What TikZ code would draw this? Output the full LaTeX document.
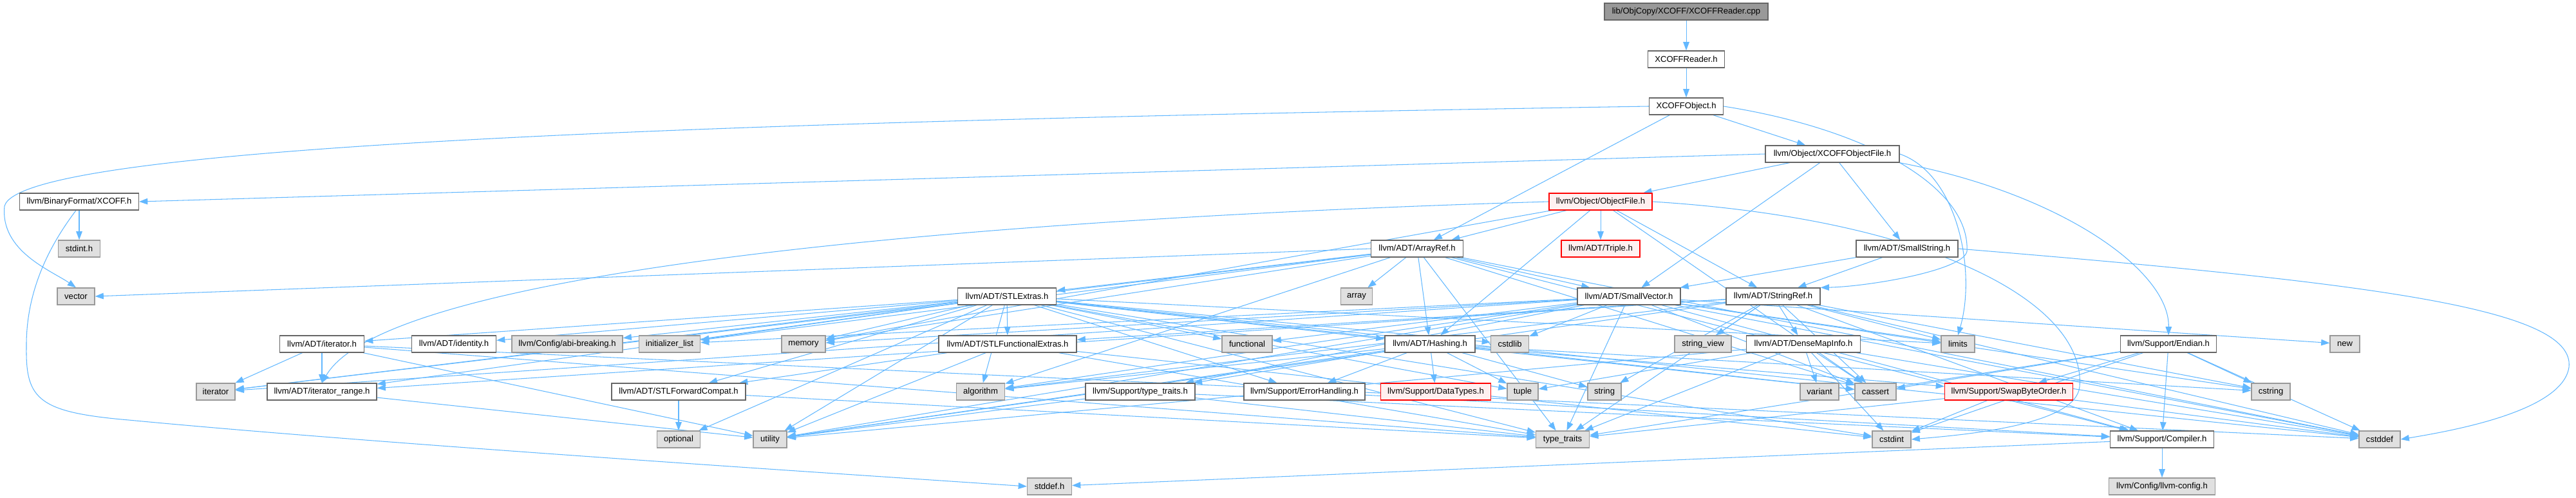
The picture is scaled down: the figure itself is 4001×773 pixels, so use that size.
\documentclass[tikz,border=0pt]{standalone}
\usepackage{fontspec}
\setmainfont{Liberation Sans}
\usepackage{xcolor}
\definecolor{dxedge}{HTML}{63B8FF}
\definecolor{dxborder}{HTML}{666666}
\definecolor{dxsysborder}{HTML}{999999}
\definecolor{dxsysfill}{HTML}{E0E0E0}
\definecolor{dxrootfill}{HTML}{999999}
\definecolor{dxredfill}{HTML}{FFF0F0}
\usetikzlibrary{arrows.meta, backgrounds}

\begin{document}
\begin{tikzpicture}[x=0.025cm, y=-0.025cm,
    every node/.style={font=\fontsize{9.3}{11}\selectfont},
    hdr/.style={draw=dxborder, fill=white, line width=0.9pt, minimum height=0.65cm,
                inner xsep=2pt, inner ysep=0pt},
    sysnode/.style={hdr, draw=dxsysborder, fill=dxsysfill},
    trunc/.style={hdr, draw=red, fill=dxredfill},
    rootnode/.style={hdr, fill=dxrootfill},
    wd/.style={minimum width=#1*0.025cm},
    arr/.style={-{Triangle[length=0.33cm, width=0.24cm]}, draw=dxedge, line width=0.75pt},
]
\useasboundingbox (0,0) rectangle (4001,773);

% ===== top chain =====
\node[rootnode, wd=254] (cpp) at (2619,18) {lib/ObjCopy/XCOFF/XCOFFReader.cpp};
\node[hdr, wd=119] (xreader) at (2619,92) {XCOFFReader.h};
\node[hdr, wd=115] (xobj) at (2619,165) {XCOFFObject.h};
\node[hdr, wd=208] (xobjfile) at (2846,239) {llvm/Object/XCOFFObjectFile.h};

% ===== rows 4-6 =====
\node[hdr, wd=185] (bfxcoff) at (123,313) {llvm/BinaryFormat/XCOFF.h};
\node[trunc, wd=160] (objfile) at (2486,313) {llvm/Object/ObjectFile.h};

\node[sysnode, wd=65] (stdinth) at (123,386) {stdint.h};
\node[hdr, wd=143] (arrayref) at (2201,386) {llvm/ADT/ArrayRef.h};
\node[trunc, wd=122] (triple) at (2486,386) {llvm/ADT/Triple.h};
\node[hdr, wd=158] (smallstr) at (2962,386) {llvm/ADT/SmallString.h};

\node[sysnode, wd=58] (vector) at (118,460) {vector};
\node[hdr, wd=153] (stlextras) at (1564,460) {llvm/ADT/STLExtras.h};
\node[sysnode, wd=49] (array) at (2107,460) {array};
\node[hdr, wd=160] (smallvec) at (2530,460) {llvm/ADT/SmallVector.h};
\node[hdr, wd=146] (stringref) at (2754,460) {llvm/ADT/StringRef.h};

% ===== row 7 =====
\node[hdr, wd=131] (iteratorh) at (500,534) {llvm/ADT/iterator.h};
\node[hdr, wd=131] (identity) at (705,534) {llvm/ADT/identity.h};
\node[sysnode, wd=172] (abibrk) at (881,534) {llvm/Config/abi-breaking.h};
\node[sysnode, wd=95] (initlist) at (1040,534) {initializer\_list};
\node[sysnode, wd=68] (memory) at (1248,534) {memory};
\node[hdr, wd=214] (stlfunc) at (1565,534) {llvm/ADT/STLFunctionalExtras.h};
\node[sysnode, wd=78] (functional) at (1937,534) {functional};
\node[hdr, wd=140] (hashing) at (2221,534) {llvm/ADT/Hashing.h};
\node[sysnode, wd=59] (cstdlib) at (2345,534) {cstdlib};
\node[sysnode, wd=88] (strview) at (2645,534) {string\_view};
\node[hdr, wd=177] (densemap) at (2801,534) {llvm/ADT/DenseMapInfo.h};
\node[sysnode, wd=52] (limits) at (3041,534) {limits};
\node[hdr, wd=149] (endian) at (3368,534) {llvm/Support/Endian.h};
\node[sysnode, wd=46] (new) at (3642,534) {new};

% ===== row 8 =====
\node[sysnode, wd=60] (iterator) at (335,608) {iterator};
\node[hdr, wd=170] (iterrange) at (500,608) {llvm/ADT/iterator\_range.h};
\node[hdr, wd=208] (stlfwd) at (1054,608) {llvm/ADT/STLForwardCompat.h};
\node[sysnode, wd=75] (algorithm) at (1523,608) {algorithm};
\node[hdr, wd=170] (typetraitsh) at (1771,608) {llvm/Support/type\_traits.h};
\node[hdr, wd=188] (errhand) at (2026,608) {llvm/Support/ErrorHandling.h};
\node[trunc, wd=171] (datatypes) at (2230,608) {llvm/Support/DataTypes.h};
\node[sysnode, wd=48] (tuple) at (2365,608) {tuple};
\node[sysnode, wd=52] (string) at (2492,608) {string};
\node[sysnode, wd=60] (variant) at (2826,608) {variant};
\node[sysnode, wd=64] (cassert) at (2913,608) {cassert};
\node[trunc, wd=199] (swapbyte) at (3120,608) {llvm/Support/SwapByteOrder.h};
\node[sysnode, wd=60] (cstring) at (3527,608) {cstring};

% ===== rows 9-10 =====
\node[sysnode, wd=67] (optional) at (1054,682) {optional};
\node[sysnode, wd=52] (utility) at (1196,682) {utility};
\node[sysnode, wd=83] (typetraits) at (2427,682) {type\_traits};
\node[sysnode, wd=60] (cstdint) at (2938,682) {cstdint};
\node[hdr, wd=161] (compiler) at (3358,682) {llvm/Support/Compiler.h};
\node[sysnode, wd=64] (cstddef) at (3696,682) {cstddef};

\node[sysnode, wd=69] (stddefh) at (1630,755) {stddef.h};
\node[sysnode, wd=165] (llvmconfig) at (3358,755) {llvm/Config/llvm-config.h};

\begin{scope}[on background layer]
% top chain
\draw[arr] (cpp) -- (xreader);
\draw[arr] (xreader) -- (xobj);
\draw[arr] (xobj) -- (xobjfile);
\draw[arr] (xobj) -- (arrayref);
\draw[arr] (xobj.west) .. controls (1000,190) and (30,230) .. (7,320)
      .. controls (0,390) and (80,420) .. (vector.north);
\draw[arr] (xobj.east) .. controls (2900,200) and (3060,290) .. (3055,390)
      .. controls (3050,420) and (2900,445) .. (stringref.north east);

% XCOFFObjectFile.h
\draw[arr] (xobjfile.west) -- (bfxcoff.east);
\draw[arr] (xobjfile) -- (objfile);
\draw[arr] (xobjfile) -- (smallvec);
\draw[arr] (xobjfile) -- (smallstr);
\draw[arr] (xobjfile.east) .. controls (3040,270) and (3070,420) .. (limits.north);
\draw[arr] (xobjfile.south east) .. controls (3200,300) and (3370,420) .. (endian.north);

% BinaryFormat/XCOFF.h
\draw[arr] (bfxcoff) -- (stdinth);
\draw[arr] (bfxcoff.250) .. controls (70,390) and (40,460) .. (41,540)
      .. controls (40,620) and (60,640) .. (200,652)
      .. controls (600,690) and (1300,735) .. (stddefh.west);

% ObjectFile.h
\draw[arr] (objfile) -- (arrayref);
\draw[arr] (objfile) -- (triple);
\draw[arr] (objfile) -- (stringref);
\draw[arr] (objfile) -- (hashing);
\draw[arr] (objfile) -- (memory);
\draw[arr] (objfile.west) .. controls (1500,340) and (600,420) .. (iterrange.north);
\draw[arr] (objfile) -- (cassert);
\draw[arr] (objfile.east) .. controls (3000,340) and (3240,470) .. (3230,600)
      .. controls (3225,660) and (3050,675) .. (cstdint.east);

% ArrayRef.h
\draw[arr] (arrayref) -- (hashing);
\draw[arr] (arrayref) -- (stlextras);
\draw[arr] (arrayref) -- (smallvec);
\draw[arr] (arrayref) -- (compiler);
\draw[arr] (arrayref) -- (algorithm);
\draw[arr] (arrayref) -- (array);
\draw[arr] (arrayref) -- (cassert);
\draw[arr] (arrayref) -- (cstddef);
\draw[arr] (arrayref) -- (initlist);
\draw[arr] (arrayref) -- (iterator);
\draw[arr] (arrayref) -- (memory);
\draw[arr] (arrayref) -- (typetraits);
\draw[arr] (arrayref.west) -- (vector.east);

% SmallString.h
\draw[arr] (smallstr) -- (smallvec);
\draw[arr] (smallstr) -- (stringref);
\draw[arr] (smallstr.east) .. controls (3700,440) and (4000,480) .. (3990,570)
      .. controls (3980,640) and (3800,670) .. (cstddef.east);

% STLExtras.h
\draw[arr] (stlextras) -- (hashing);
\draw[arr] (stlextras) -- (stlfwd);
\draw[arr] (stlextras) -- (stlfunc);
\draw[arr] (stlextras) -- (identity);
\draw[arr] (stlextras) -- (iteratorh);
\draw[arr] (stlextras) -- (iterrange);
\draw[arr] (stlextras) -- (abibrk);
\draw[arr] (stlextras) -- (errhand);
\draw[arr] (stlextras) -- (algorithm);
\draw[arr] (stlextras) -- (cassert);
\draw[arr] (stlextras) -- (cstddef);
\draw[arr] (stlextras) -- (cstdint);
\draw[arr] (stlextras) -- (cstdlib);
\draw[arr] (stlextras) -- (functional);
\draw[arr] (stlextras) -- (initlist);
\draw[arr] (stlextras) -- (iterator);
\draw[arr] (stlextras) -- (limits);
\draw[arr] (stlextras) -- (memory);
\draw[arr] (stlextras) -- (optional);
\draw[arr] (stlextras) -- (tuple);
\draw[arr] (stlextras) -- (typetraits);
\draw[arr] (stlextras) -- (utility);

% SmallVector.h
\draw[arr] (smallvec) -- (compiler);
\draw[arr] (smallvec) -- (typetraitsh);
\draw[arr] (smallvec) -- (algorithm);
\draw[arr] (smallvec) -- (cassert);
\draw[arr] (smallvec) -- (cstddef);
\draw[arr] (smallvec) -- (cstdlib);
\draw[arr] (smallvec) -- (cstring);
\draw[arr] (smallvec) -- (functional);
\draw[arr] (smallvec) -- (initlist);
\draw[arr] (smallvec) -- (iterator);
\draw[arr] (smallvec) -- (limits);
\draw[arr] (smallvec) -- (memory);
\draw[arr] (smallvec) -- (new);
\draw[arr] (smallvec) -- (typetraits);
\draw[arr] (smallvec) -- (utility);

% StringRef.h
\draw[arr] (stringref) -- (densemap);
\draw[arr] (stringref) -- (stlfunc);
\draw[arr] (stringref) -- (iterrange);
\draw[arr] (stringref) -- (compiler);
\draw[arr] (stringref) -- (algorithm);
\draw[arr] (stringref) -- (cassert);
\draw[arr] (stringref) -- (cstddef);
\draw[arr] (stringref) -- (cstring);
\draw[arr] (stringref) -- (limits);
\draw[arr] (stringref) -- (string);
\draw[arr] (stringref) -- (strview);
\draw[arr] (stringref) -- (typetraits);
\draw[arr] (stringref) -- (utility);

% iterator.h, iterator_range.h
\draw[arr] (iteratorh) -- (iterrange);
\draw[arr] (iteratorh) -- (iterator);
\draw[arr] (iteratorh) -- (cstddef);
\draw[arr] (iteratorh) -- (typetraits);
\draw[arr] (iteratorh) -- (utility);
\draw[arr] (iterrange) -- (utility);

% STLFunctionalExtras.h, STLForwardCompat.h
\draw[arr] (stlfunc) -- (stlfwd);
\draw[arr] (stlfunc) -- (cstdint);
\draw[arr] (stlfunc) -- (typetraits);
\draw[arr] (stlfunc) -- (utility);
\draw[arr] (stlfwd) -- (optional);
\draw[arr] (stlfwd) -- (typetraits);

% Hashing.h
\draw[arr] (hashing) -- (datatypes);
\draw[arr] (hashing) -- (errhand);
\draw[arr] (hashing) -- (swapbyte);
\draw[arr] (hashing) -- (typetraitsh);
\draw[arr] (hashing) -- (algorithm);
\draw[arr] (hashing) -- (cassert);
\draw[arr] (hashing) -- (cstring);
\draw[arr] (hashing) -- (string);
\draw[arr] (hashing) -- (tuple);
\draw[arr] (hashing) -- (utility);

% DenseMapInfo.h
\draw[arr] (densemap) -- (cassert);
\draw[arr] (densemap) -- (cstddef);
\draw[arr] (densemap) -- (cstdint);
\draw[arr] (densemap) -- (tuple);
\draw[arr] (densemap) -- (typetraits);
\draw[arr] (densemap) -- (utility);
\draw[arr] (densemap) -- (variant);

% Support headers
\draw[arr] (typetraitsh) -- (compiler);
\draw[arr] (typetraitsh) -- (typetraits);
\draw[arr] (typetraitsh) -- (utility);
\draw[arr] (errhand) -- (compiler);
\draw[arr] (swapbyte) -- (cstddef);
\draw[arr] (swapbyte) -- (cstdint);
\draw[arr] (swapbyte) -- (typetraits);
\draw[arr] (endian) -- (compiler);
\draw[arr] (endian) -- (swapbyte);
\draw[arr] (endian) -- (cassert);
\draw[arr] (endian) -- (cstddef);
\draw[arr] (endian) -- (cstdint);
\draw[arr] (endian) -- (cstring);
\draw[arr] (endian) -- (typetraits);
\draw[arr] (compiler) -- (llvmconfig);
\draw[arr] (compiler) -- (stddefh);
\end{scope}

\end{tikzpicture}
\end{document}
